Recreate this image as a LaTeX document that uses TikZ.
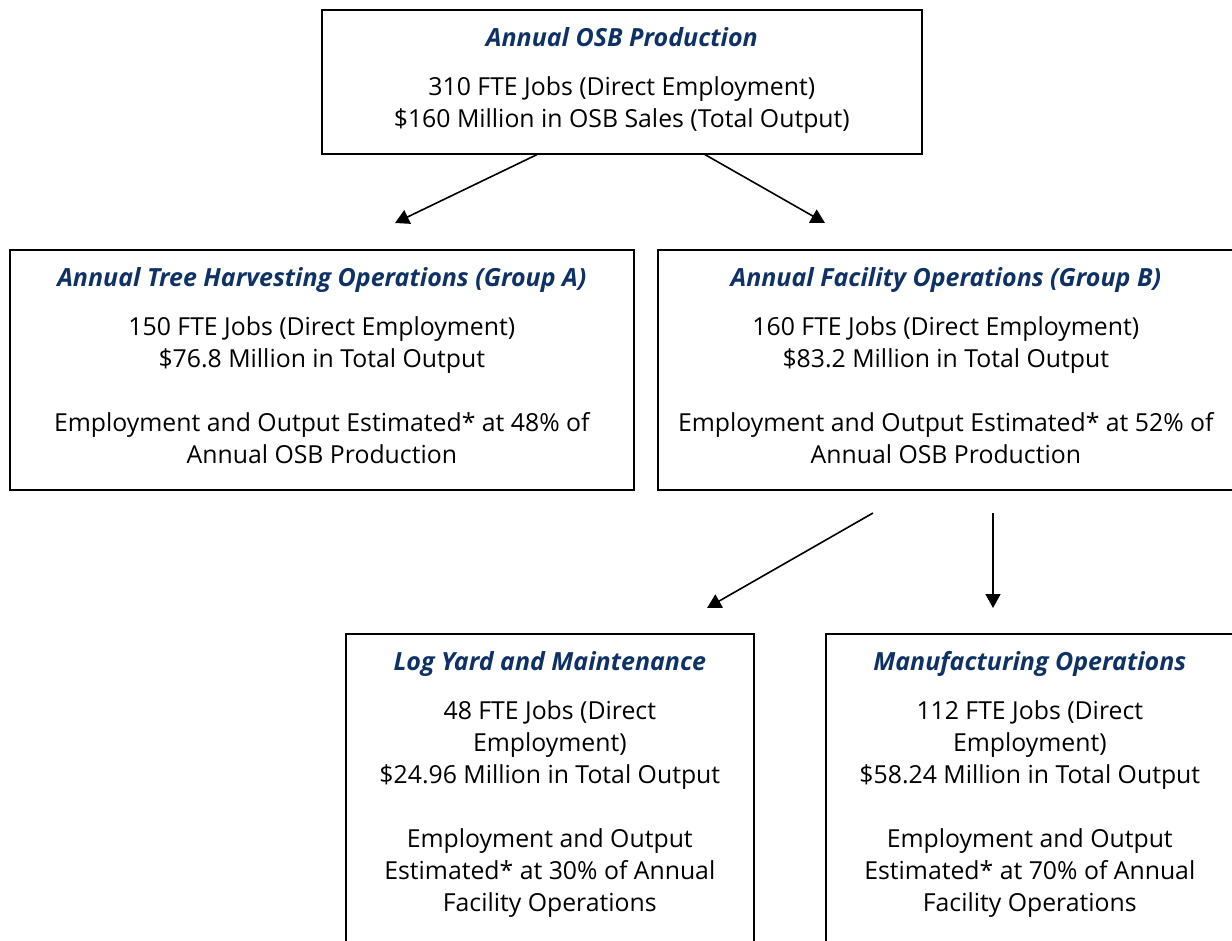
\documentclass[tikz,border=0pt]{standalone}
\usepackage{fontspec}
\setmainfont{Open Sans}
\usetikzlibrary{positioning,arrows.meta}
\definecolor{titleblue}{RGB}{14,50,102}
\newcommand{\boxtitle}[1]{{\fontsize{25}{32}\selectfont\color{titleblue}\bfseries\itshape #1}\\[17pt]}

\begin{document}
\begin{tikzpicture}[x=1pt,y=-1pt,
  frame/.style={draw,line width=1.6pt,inner sep=0pt,anchor=north west},
  body/.style={align=center,inner sep=0pt,font=\fontsize{24.8}{32}\selectfont},
  flow/.style={-{Triangle[length=14pt,width=15pt]},line width=1.6pt}]
  \useasboundingbox (0,0) rectangle (1232,941);
  \clip (0,0) rectangle (1232,941);
  % The boxes
  \node[frame,minimum width=600pt,minimum height=144pt] (osb) at (321,9) {};
  \node[frame,minimum width=624pt,minimum height=240pt] (harvest) at (9,249) {};
  \node[frame,minimum width=576pt,minimum height=240pt] (facility) at (657,249) {};
  \node[frame,minimum width=408pt,minimum height=400pt] (logyard) at (345,633) {};
  \node[frame,minimum width=408pt,minimum height=400pt] (manuf) at (825,633) {};
  % The texts
  \node[body,below=18pt of osb.north] (osbtext)
    {\boxtitle{Annual OSB Production}
     310 FTE Jobs (Direct Employment)\\
     \$160 Million in OSB Sales (Total Output)};
  \node[body,below=18pt of harvest.north] (harvesttext)
    {\boxtitle{Annual Tree Harvesting Operations (Group A)}
     150 FTE Jobs (Direct Employment)\\
     \$76.8 Million in Total Output\\[32pt]
     Employment and Output Estimated* at 48\% of\\
     Annual OSB Production};
  \node[body,below=18pt of facility.north] (facilitytext)
    {\boxtitle{Annual Facility Operations (Group B)}
     160 FTE Jobs (Direct Employment)\\
     \$83.2 Million in Total Output\\[32pt]
     Employment and Output Estimated* at 52\% of\\
     Annual OSB Production};
  \node[body,below=18pt of logyard.north] (logyardtext)
    {\boxtitle{Log Yard and Maintenance}
     48 FTE Jobs (Direct\\
     Employment)\\
     \$24.96 Million in Total Output\\[32pt]
     Employment and Output\\
     Estimated* at 30\% of Annual\\
     Facility Operations};
  \node[body,below=18pt of manuf.north] (manuftext)
    {\boxtitle{Manufacturing Operations}
     112 FTE Jobs (Direct\\
     Employment)\\
     \$58.24 Million in Total Output\\[32pt]
     Employment and Output\\
     Estimated* at 70\% of Annual\\
     Facility Operations};
  % The arrows
  \coordinate (tipA) at (395,223);
  \coordinate (tipB) at (825,223);
  \coordinate (fromB1) at (873,513);
  \coordinate (fromB2) at (993,513);
  \coordinate (tipLog) at (707,608);
  \coordinate (tipMan) at (993,608);
  \draw[flow] ([xshift=216pt]osb.south west) -- (tipA);
  \draw[flow] ([xshift=384pt]osb.south west) -- (tipB);
  \draw[flow] (fromB1) -- (tipLog);
  \draw[flow] (fromB2) -- (tipMan);
\end{tikzpicture}
\end{document}
